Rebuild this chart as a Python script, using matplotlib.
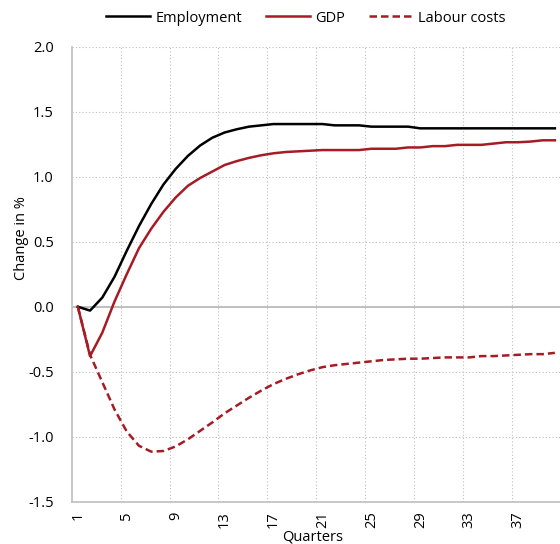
import matplotlib
matplotlib.use("Agg")
import matplotlib.pyplot as plt
from matplotlib.ticker import FixedLocator, FormatStrFormatter

quarters = list(range(1, 41))

employment = [0.0, -0.03, 0.07, 0.23, 0.43, 0.62, 0.79, 0.94, 1.06, 1.16,
              1.24, 1.30, 1.34, 1.365, 1.385, 1.395, 1.405, 1.405, 1.405, 1.405,
              1.405, 1.395, 1.395, 1.395, 1.385, 1.385, 1.385, 1.385, 1.372, 1.372,
              1.372, 1.372, 1.372, 1.372, 1.372, 1.372, 1.372, 1.372, 1.372, 1.372]

gdp = [0.0, -0.38, -0.2, 0.04, 0.25, 0.45, 0.60, 0.73, 0.84, 0.93,
       0.99, 1.04, 1.09, 1.12, 1.145, 1.165, 1.18, 1.19, 1.195, 1.20,
       1.205, 1.205, 1.205, 1.205, 1.215, 1.215, 1.215, 1.225, 1.225, 1.235,
       1.235, 1.245, 1.245, 1.245, 1.255, 1.265, 1.265, 1.27, 1.28, 1.28]

labour_costs = [0.0, -0.37, -0.58, -0.79, -0.96, -1.07, -1.115, -1.11, -1.075, -1.02,
                -0.955, -0.89, -0.82, -0.76, -0.70, -0.645, -0.595, -0.555, -0.52, -0.49,
                -0.465, -0.45, -0.44, -0.43, -0.42, -0.41, -0.405, -0.40, -0.40, -0.395,
                -0.39, -0.39, -0.39, -0.38, -0.38, -0.375, -0.37, -0.365, -0.365, -0.355]

x_tick_labels = [1, 5, 9, 13, 17, 21, 25, 29, 33, 37]
y_ticks = [-1.5, -1.0, -0.5, 0.0, 0.5, 1.0, 1.5, 2.0]

RED = "#a51c24"
GRID = "#bfbfbf"
FS = 10.5

plt.rcParams["font.family"] = ["Open Sans", "DejaVu Sans"]

W, H = 560, 544
fig = plt.figure(figsize=(W / 100, H / 100), dpi=100)
ax_left, ax_right, ax_top, ax_bottom = 71.7, 561.0, 46.7, 501.7
ax = fig.add_axes([ax_left / W, 1 - ax_bottom / H,
                   (ax_right - ax_left) / W, (ax_bottom - ax_top) / H])

ax.plot(quarters, employment, color="black", lw=1.8, label="Employment",
        solid_joinstyle="round", zorder=4)
ax.plot(quarters, gdp, color=RED, lw=1.8, label="GDP",
        solid_joinstyle="round", zorder=4)
ax.plot(quarters, labour_costs, color=RED, lw=1.8, ls=(0, (3.0, 1.6)),
        label="Labour costs", zorder=3)

ax.set_xlim(0.5, 40.5)
ax.set_ylim(-1.5, 2.0)

# category labels sit on the quarters, gridlines fall between categories
ax.xaxis.set_major_locator(FixedLocator(x_tick_labels))
ax.xaxis.set_minor_locator(FixedLocator([t - 0.5 for t in x_tick_labels[1:]]))
ax.set_xticklabels([str(t) for t in x_tick_labels], rotation=90, fontsize=FS)
ax.tick_params(axis="x", which="major", length=0, pad=7)
ax.tick_params(axis="x", which="minor", length=0)
ax.grid(True, axis="x", which="minor", color=GRID, ls=(0, (1, 2)), lw=0.8)

ax.set_yticks(y_ticks)
ax.yaxis.set_major_formatter(FormatStrFormatter("%.1f"))
ax.tick_params(axis="y", length=0, pad=13, labelsize=FS)
for y in y_ticks:
    if y in (0.0, -1.5):
        continue
    ax.axhline(y, color=GRID, ls=(0, (1, 2)), lw=0.8, zorder=1)
ax.axhline(0.0, color=GRID, lw=1.4, zorder=2)

for side in ("top", "right"):
    ax.spines[side].set_visible(False)
for side in ("left", "bottom"):
    ax.spines[side].set_color(GRID)
    ax.spines[side].set_linewidth(1.2)

ax.set_ylabel("Change in %", fontsize=FS)
ax.yaxis.set_label_coords((22 - ax_left) / (ax_right - ax_left),
                          (ax_bottom - 238) / (ax_bottom - ax_top))
ax.set_xlabel("Quarters", fontsize=FS)
ax.xaxis.set_label_coords((313 - ax_left) / (ax_right - ax_left),
                          -(537 - ax_bottom) / (ax_bottom - ax_top))
ax.xaxis.label.set_va("center")
ax.yaxis.label.set_va("center")

fig.legend(loc="center", bbox_to_anchor=(306 / W, 1 - 18 / H), ncol=3,
           frameon=False, fontsize=FS, handlelength=3.0, handletextpad=0.4,
           columnspacing=1.6)

fig.savefig("out.png", dpi=100)
